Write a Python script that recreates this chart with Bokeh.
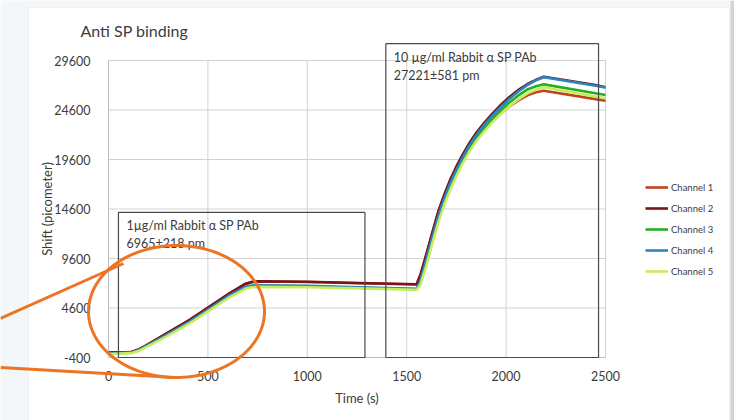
import numpy as np
from bokeh.plotting import figure
from bokeh.models import (FixedTicker, BoxAnnotation, PolyAnnotation, Label,
                          Legend, LegendItem)
from bokeh.embed import file_html
from bokeh.resources import INLINE

# ---------------- data ----------------
time_s = [0, 115, 150, 175, 290, 410, 510, 610, 690, 720, 750, 1000, 1260, 1550,
          1570, 1600, 1630, 1660, 1690, 1720, 1750, 1780, 1815, 1850, 1890, 1930,
          1970, 2010, 2060, 2110, 2150, 2190, 2450, 2500]

channel_2 = [100, 160, 400, 660, 2000, 3420, 4760, 6110, 7050, 7230, 7300, 7250, 7120, 7000,
             8000, 10100, 12300, 14400, 16100, 17600, 18900, 20050, 21250, 22300, 23300, 24200,
             25050, 25800, 26600, 27250, 27650, 27960, 27120, 26900]
channel_1 = [80, 140, 380, 640, 1980, 3400, 4740, 6090, 7030, 7210, 7280, 7230, 7100, 6980,
             7950, 10050, 12250, 14350, 16050, 17500, 18750, 19850, 20950, 21900, 22750, 23500,
             24200, 24850, 25550, 26100, 26400, 26550, 25700, 25540]
channel_3 = [0, 80, 300, 560, 1800, 3200, 4500, 5830, 6680, 6800, 6830, 6790, 6650, 6500,
             7250, 9300, 11550, 13650, 15450, 16950, 18250, 19400, 20650, 21700, 22750, 23650,
             24500, 25250, 26050, 26700, 27000, 27190, 26300, 26110]
channel_4 = [0, 100, 340, 600, 1850, 3250, 4560, 5900, 6750, 6860, 6890, 6850, 6700, 6550,
             7450, 9600, 11850, 13950, 15750, 17250, 18550, 19750, 21000, 22050, 23100, 24000,
             24850, 25600, 26450, 27150, 27600, 27900, 27050, 26870]
channel_5 = [-50, 40, 250, 500, 1700, 3080, 4380, 5700, 6560, 6700, 6730, 6700, 6580, 6450,
             7000, 8950, 11200, 13300, 15100, 16600, 17950, 19150, 20400, 21450, 22450, 23350,
             24150, 24850, 25650, 26300, 26650, 26890, 25950, 25780]

series_names = ["Channel 1", "Channel 2", "Channel 3", "Channel 4", "Channel 5"]
series_values = [channel_1, channel_2, channel_3, channel_4, channel_5]
series_colors = ["#c0421e", "#7a1418", "#22b022", "#2b86c0", "#c6ee5a"]

x_ticks = [0, 500, 1000, 1500, 2000, 2500]
y_ticks = [-400, 4600, 9600, 14600, 19600, 24600, 29600]
y_tick_labels = ["-400", "4600", "9600", "14600", "19600", "24600", "29600"]

# injection windows: start, end, top, text lines
win_start = [50, 1395]
win_end = [1290, 2465]
win_top = [14250, 31300]
win_line1 = ["1µg/ml Rabbit α SP PAb", "10 µg/ml Rabbit α SP PAb"]
win_line2 = ["6965±218 pm", "27221±581 pm"]

# ---------------- layout (pixels) ----------------
W, H = 734, 420
PL, PR, PT, PB = 108, 605, 60, 357          # plot-area edges in canvas pixels
FONT = "Lato"
TXT = "#3c3c3c"
GRID = "#d2d2d2"

x0, x1 = x_ticks[0], x_ticks[-1]
y0, y1 = y_ticks[0], y_ticks[-1]
sx = (PR - PL) / (x1 - x0)
sy = (PB - PT) / (y1 - y0)
x_range = (x0 - PL / sx, x1 + (W - PR) / sx)
y_range = (y0 - (H - PB) / sy, y1 + PT / sy)

p = figure(width=W, height=H, output_backend="svg", toolbar_location=None,
           x_range=x_range, y_range=y_range, min_border=0)
p.background_fill_color = "#f3f7f9"
p.border_fill_color = "#f3f7f9"
p.outline_line_color = None
p.grid.visible = False

# white chart box and right edge band
p.add_layout(BoxAnnotation(left=28, right=729, top=7, bottom=440,
                           left_units="canvas", right_units="canvas",
                           top_units="canvas", bottom_units="canvas",
                           fill_color="white", fill_alpha=1.0,
                           line_color="#d6d6d6", line_width=1, level="image"))
p.add_layout(BoxAnnotation(left=730, right=734, top=0, bottom=420,
                           left_units="canvas", right_units="canvas",
                           top_units="canvas", bottom_units="canvas",
                           fill_color="#d4d4d4", fill_alpha=1.0,
                           line_color=None, level="image"))

# grid lines from tick arrays, limited to the plot area
p.segment(x0=x_ticks, y0=[y0] * len(x_ticks), x1=x_ticks, y1=[y1] * len(x_ticks),
          line_color=GRID, line_width=1)
p.segment(x0=[x0] * len(y_ticks), y0=y_ticks, x1=[x1] * len(y_ticks), y1=y_ticks,
          line_color=GRID, line_width=1)

# axes pinned to the plot-area edges
p.xaxis.fixed_location = y0
p.xaxis.bounds = (x0, x1)
p.yaxis.fixed_location = x0
p.yaxis.bounds = (y0, y1)
for ax, ticks in ((p.xaxis, x_ticks), (p.yaxis, y_ticks)):
    ax.ticker = FixedTicker(ticks=ticks)
    ax.major_tick_line_color = None
    ax.minor_tick_line_color = None
    ax.axis_line_color = "#bfbfbf"
    ax.major_label_text_font = FONT
    ax.major_label_text_font_size = "12.5px"
    ax.major_label_text_color = TXT
    ax.axis_label_text_font = FONT
    ax.axis_label_text_font_size = "13px"
    ax.axis_label_text_font_style = "normal"
    ax.axis_label_text_color = TXT
p.yaxis.major_label_overrides = {t: s for t, s in zip(y_ticks, y_tick_labels)}
p.xaxis.axis_label = "Time (s)"
p.yaxis.axis_label = "Shift (picometer)"
p.xaxis.major_label_standoff = 7
p.yaxis.major_label_standoff = 12
p.xaxis.axis_label_standoff = 6
p.yaxis.axis_label_standoff = -4

# series lines
renderers = []
for name, vals, col in zip(series_names, series_values, series_colors):
    renderers.append(p.line(time_s, vals, line_color=col, line_width=2.6,
                            line_join="round"))

# injection windows
for xs, xe, top, t1, t2 in zip(win_start, win_end, win_top, win_line1, win_line2):
    p.add_layout(BoxAnnotation(left=xs, right=xe, bottom=y0, top=top,
                               fill_alpha=0, line_color="#4a4a4a",
                               line_alpha=1, line_width=1.2))
    for txt, off in ((t1, -13.5), (t2, -31.5)):
        p.add_layout(Label(x=xs, y=top, x_offset=8, y_offset=off, text=txt,
                           text_baseline="middle", text_font=FONT,
                           text_font_size="12.5px", text_color=TXT))

# title
p.add_layout(Label(x=80, y=30, x_units="canvas", y_units="canvas",
                   text="Anti SP binding", text_baseline="middle",
                   text_font=FONT, text_font_size="16px", text_color=TXT))

# orange call-out (canvas pixels)
orange = "#ed7422"
th = np.linspace(0, 2 * np.pi, 160)
p.add_layout(PolyAnnotation(xs=list(176 + 88 * np.cos(th)),
                            ys=list(311 + 66 * np.sin(th)),
                            xs_units="canvas", ys_units="canvas",
                            fill_alpha=0, line_color=orange, line_alpha=1,
                            line_width=3))
for xs_, ys_ in (([0, 123, 123, 0], [318, 263, 263, 318]),
                 ([0, 175, 175, 0], [367, 377, 377, 367])):
    p.add_layout(PolyAnnotation(xs=xs_, ys=ys_, xs_units="canvas", ys_units="canvas",
                                fill_alpha=0, line_color=orange, line_alpha=1,
                                line_width=3))

legend = Legend(items=[LegendItem(label=n, renderers=[r])
                       for n, r in zip(series_names, renderers)],
                location=(645, 143), orientation="vertical",
                background_fill_alpha=0, border_line_color=None,
                label_text_font=FONT, label_text_font_size="9.5px",
                label_text_color=TXT, glyph_width=23, glyph_height=12,
                label_height=12, spacing=9, padding=0, margin=0,
                label_standoff=3)
p.add_layout(legend)

open("out.html", "w").write(file_html(p, INLINE))
